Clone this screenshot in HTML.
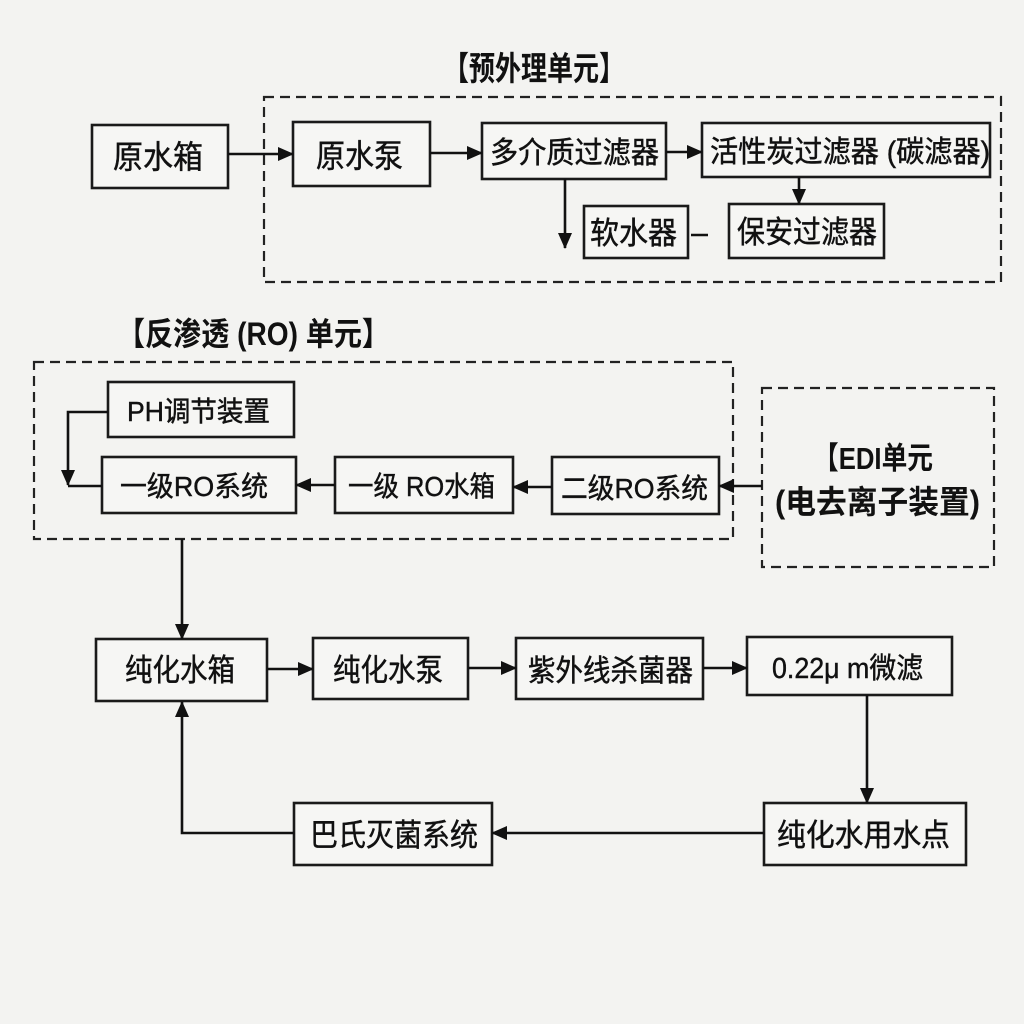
<!DOCTYPE html>
<html>
<head>
<meta charset="utf-8">
<style>
  html, body { margin: 0; padding: 0; background: #f3f3f1; }
  svg { display: block; }
  text { font-family: "Liberation Sans", "Noto Sans CJK SC", "WenQuanYi Zen Hei", sans-serif; fill: #111; }
  .lbl text { stroke: #111; stroke-width: 0.45; }
</style>
</head>
<body>
<svg width="1024" height="1024" viewBox="0 0 1024 1024" xmlns="http://www.w3.org/2000/svg">
  <defs>
    <marker id="ah" markerUnits="userSpaceOnUse" markerWidth="16" markerHeight="16" refX="15" refY="8" orient="auto">
      <path d="M0,1 L16,8 L0,15 Z" fill="#111"/>
    </marker>
  </defs>
  <rect x="0" y="0" width="1024" height="1024" fill="#f3f3f1"/>

  <!-- Dashed group boxes -->
  <g fill="none" stroke="#222" stroke-width="2.2" stroke-dasharray="10 6">
    <rect x="264" y="97" width="737" height="185"/>
    <rect x="34" y="362" width="699" height="177"/>
    <rect x="762" y="388" width="232" height="179"/>
  </g>

  <!-- Solid boxes -->
  <g fill="#f6f6f4" stroke="#1a1a1a" stroke-width="2.6">
    <rect x="92" y="125" width="136" height="63"/>
    <rect x="293" y="122" width="137" height="64"/>
    <rect x="482" y="123" width="184" height="56"/>
    <rect x="702" y="123" width="288" height="54"/>
    <rect x="584" y="206" width="104" height="52"/>
    <rect x="729" y="204" width="155" height="54"/>

    <rect x="108" y="382" width="186" height="55"/>
    <rect x="102" y="457" width="194" height="56"/>
    <rect x="335" y="457" width="178" height="56"/>
    <rect x="552" y="457" width="167" height="57"/>

    <rect x="96" y="639" width="171" height="62"/>
    <rect x="313" y="638" width="155" height="61"/>
    <rect x="516" y="638" width="187" height="61"/>
    <rect x="747" y="637" width="205" height="58"/>
    <rect x="764" y="803" width="202" height="62"/>
    <rect x="294" y="803" width="198" height="62"/>
  </g>

  <!-- Connectors -->
  <g fill="none" stroke="#111" stroke-width="2.6">
    <line x1="228" y1="154" x2="293" y2="154" marker-end="url(#ah)"/>
    <line x1="430" y1="153" x2="482" y2="153" marker-end="url(#ah)"/>
    <line x1="666" y1="152" x2="702" y2="152" marker-end="url(#ah)"/>
    <line x1="799" y1="177" x2="799" y2="204" marker-end="url(#ah)"/>
    <line x1="565" y1="179" x2="565" y2="248" marker-end="url(#ah)"/>
    <line x1="691" y1="235" x2="708" y2="235"/>

    <polyline points="108,412 68,412 68,485" marker-end="url(#ah)"/>
    <line x1="68" y1="486" x2="102" y2="486"/>
    <line x1="335" y1="485" x2="296" y2="485" marker-end="url(#ah)"/>
    <line x1="552" y1="487" x2="513" y2="487" marker-end="url(#ah)"/>
    <line x1="762" y1="486" x2="719" y2="486" marker-end="url(#ah)"/>

    <line x1="182" y1="539" x2="182" y2="639" marker-end="url(#ah)"/>
    <line x1="267" y1="669" x2="313" y2="669" marker-end="url(#ah)"/>
    <line x1="468" y1="668" x2="516" y2="668" marker-end="url(#ah)"/>
    <line x1="703" y1="668" x2="747" y2="668" marker-end="url(#ah)"/>
    <line x1="867" y1="695" x2="867" y2="803" marker-end="url(#ah)"/>
    <line x1="764" y1="833" x2="492" y2="833" marker-end="url(#ah)"/>
    <polyline points="294,833 182,833 182,702" marker-end="url(#ah)"/>
  </g>

  <!-- Titles -->
  <text x="443" y="80" font-size="33" font-weight="bold" textLength="182" lengthAdjust="spacingAndGlyphs">【预外理单元】</text>
  <text x="117" y="345" font-size="32" font-weight="bold" textLength="273" lengthAdjust="spacingAndGlyphs">【反渗透 (RO) 单元】</text>
  <text x="813" y="469" font-size="31" font-weight="bold" textLength="120" lengthAdjust="spacingAndGlyphs">【EDI单元</text>
  <text x="775" y="513" font-size="32" font-weight="bold" textLength="205" lengthAdjust="spacingAndGlyphs">(电去离子装置)</text>

  <!-- Box labels -->
  <g class="lbl" font-size="32">
    <text x="113" y="168" textLength="90" lengthAdjust="spacingAndGlyphs">原水箱</text>
    <text x="316" y="167" textLength="87" lengthAdjust="spacingAndGlyphs">原水泵</text>
    <text x="490" y="163" font-size="30" textLength="169" lengthAdjust="spacingAndGlyphs">多介质过滤器</text>
    <text x="710" y="162" font-size="30" textLength="280" lengthAdjust="spacingAndGlyphs">活性炭过滤器 (碳滤器)</text>
    <text x="590" y="244" font-size="31" textLength="87" lengthAdjust="spacingAndGlyphs">软水器</text>
    <text x="737" y="243" font-size="31" textLength="140" lengthAdjust="spacingAndGlyphs">保安过滤器</text>

    <text x="127" y="421" font-size="28" textLength="143" lengthAdjust="spacingAndGlyphs">PH调节装置</text>
    <text x="120" y="496" font-size="28" textLength="148" lengthAdjust="spacingAndGlyphs">一级RO系统</text>
    <text x="348" y="496" font-size="28" textLength="147" lengthAdjust="spacingAndGlyphs">一级 RO水箱</text>
    <text x="561" y="498" font-size="28" textLength="147" lengthAdjust="spacingAndGlyphs">二级RO系统</text>

    <text x="125" y="681" font-size="31" textLength="110" lengthAdjust="spacingAndGlyphs">纯化水箱</text>
    <text x="333" y="681" font-size="31" textLength="110" lengthAdjust="spacingAndGlyphs">纯化水泵</text>
    <text x="528" y="681" font-size="30" textLength="165" lengthAdjust="spacingAndGlyphs">紫外线杀菌器</text>
    <text x="772" y="678" font-size="29" textLength="151" lengthAdjust="spacingAndGlyphs">0.22μ m微滤</text>
    <text x="777" y="846" font-size="31" textLength="173" lengthAdjust="spacingAndGlyphs">纯化水用水点</text>
    <text x="310" y="846" font-size="31" textLength="168" lengthAdjust="spacingAndGlyphs">巴氏灭菌系统</text>
  </g>
</svg>
</body>
</html>
